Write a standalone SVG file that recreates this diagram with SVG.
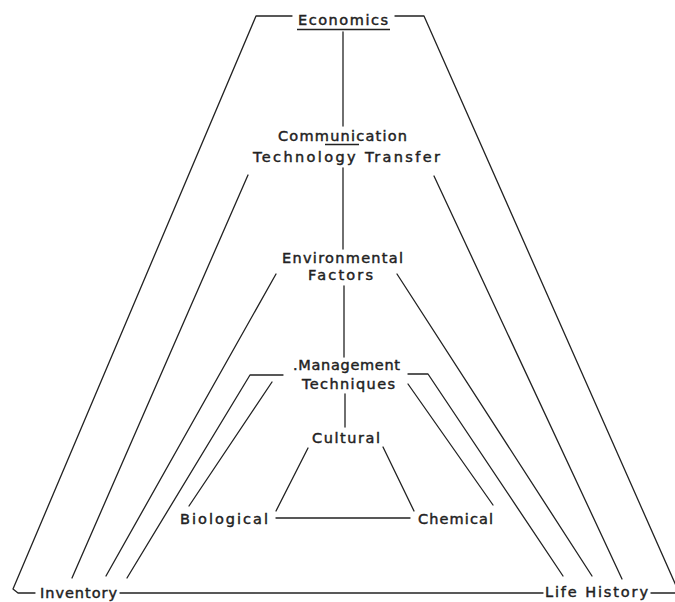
<svg xmlns="http://www.w3.org/2000/svg" width="675" height="602" viewBox="0 0 675 602">
<style>
.c{fill:none;stroke:#222;stroke-width:1.3;stroke-linecap:round;stroke-linejoin:round}
.u{fill:none;stroke:#222;stroke-width:1.6}
text{font-family:"DejaVu Sans","Liberation Sans",sans-serif;font-size:14.5px;fill:#222;stroke:#222;stroke-width:0.45;font-weight:normal}
</style>
<rect width="675" height="602" fill="#fff"/>
<g id="connectors">
<path class="c" d="M292,16 H256 L13,589 L18,593 H35"/>
<path class="c" d="M120,593 H543"/>
<path class="c" d="M395,16 H424 L677,588"/>
<path class="c" d="M651,593 H675"/>
<path class="c" d="M343,32 V126"/>
<path class="c" d="M343,168 V249"/>
<path class="c" d="M344,286 V357"/>
<path class="c" d="M345,394 V427"/>
<path class="c" d="M248,175 L72,578"/>
<path class="c" d="M434,176 L622,579"/>
<path class="c" d="M276,274 L106,576"/>
<path class="c" d="M397,274 L592,576"/>
<path class="c" d="M283,375 H250 L127,578"/>
<path class="c" d="M408,374 H428 L563,576"/>
<path class="c" d="M272,382 L189,506"/>
<path class="c" d="M408,384 L493,505"/>
<path class="c" d="M308,448 L276,511"/>
<path class="c" d="M383,447 L414,511"/>
<path class="c" d="M276,518 H410"/>
</g>
<g id="economics">
<text x="298" y="25" textLength="90" lengthAdjust="spacing">Economics</text>
<line class="u" x1="297" y1="29.5" x2="390" y2="29.5"/>
</g>
<g id="communication">
<text x="278" y="141" textLength="129" lengthAdjust="spacing">Communication</text>
<line class="u" x1="325" y1="144.5" x2="359" y2="144.5"/>
<text x="253" y="162" textLength="187" lengthAdjust="spacing">Technology Transfer</text>
</g>
<g id="environmental">
<text x="282" y="263" textLength="121" lengthAdjust="spacing">Environmental</text>
<text x="308" y="280" textLength="65" lengthAdjust="spacing">Factors</text>
</g>
<g id="management">
<text x="293" y="370" textLength="107" lengthAdjust="spacing">.Management</text>
<text x="302" y="389" textLength="93" lengthAdjust="spacing">Techniques</text>
</g>
<g id="cultural">
<text x="312" y="443" textLength="68" lengthAdjust="spacing">Cultural</text>
</g>
<g id="biological">
<text x="180" y="524" textLength="88" lengthAdjust="spacing">Biological</text>
</g>
<g id="chemical">
<text x="418" y="524" textLength="75" lengthAdjust="spacing">Chemical</text>
</g>
<g id="inventory">
<text x="40" y="598" textLength="77" lengthAdjust="spacing">Inventory</text>
</g>
<g id="life-history">
<text x="545" y="597" textLength="103" lengthAdjust="spacing">Life History</text>
</g>
</svg>
